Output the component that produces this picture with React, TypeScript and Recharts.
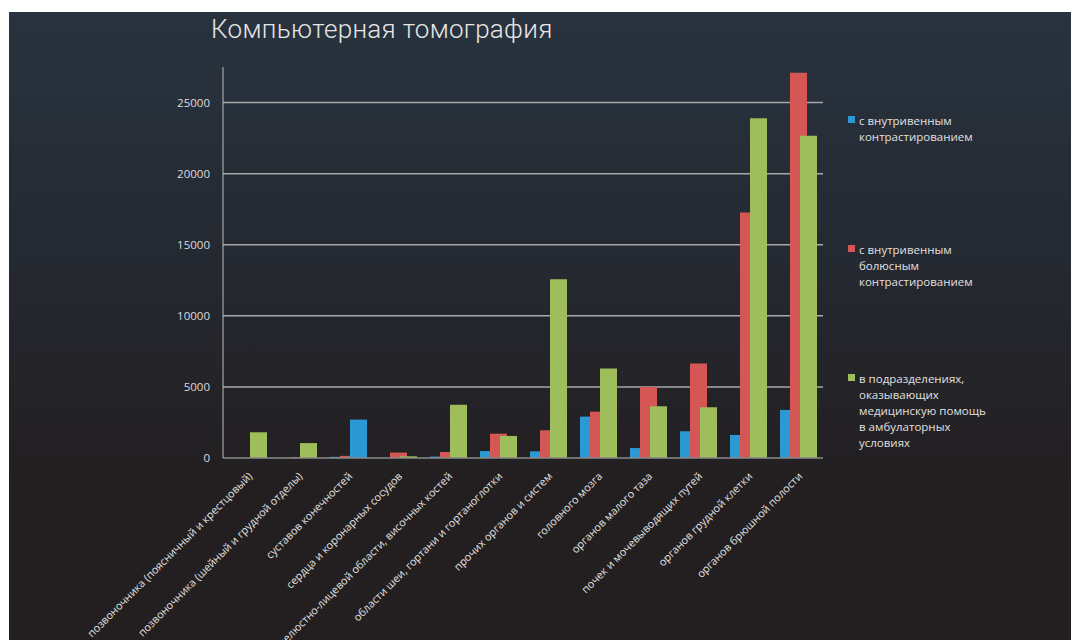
import React from 'react';
import { BarChart, Bar, XAxis, YAxis, CartesianGrid, Legend, Cell } from 'recharts';

const categories = [
  'позвоночника (поясничный и крестцовый)',
  'позвоночника (шейный и грудной отделы)',
  'суставов конечностей',
  'сердца и коронарных сосудов',
  'челюстно-лицевой области, височных костей',
  'области шеи, гортани и гортаноглотки',
  'прочих органов и систем',
  'головного  мозга',
  'органов малого таза',
  'почек и мочевыводящих путей',
  'органов грудной клетки',
  'органов брюшной полости',
];
const ivContrast = [0, 0, 80, 0, 100, 490, 470, 2910, 700, 1880, 1620, 3380];
const bolusContrast = [0, 50, 150, 380, 420, 1710, 1950, 3260, 5000, 6640, 17270, 27100];
const outpatient = [1810, 1050, 2700, 120, 3750, 1550, 12580, 6290, 3640, 3570, 23890, 22670];
const yTicks = [0, 5000, 10000, 15000, 20000, 25000];
const gridValues = [5000, 10000, 15000, 20000, 25000];

const seriesNames = [
  ['с внутривенным', 'контрастированием'],
  ['с внутривенным', 'болюсным', 'контрастированием'],
  ['в подразделениях,', 'оказывающих', 'медицинскую помощь', 'в амбулаторных', 'условиях'],
];
const colors = ['#2b9ad4', '#d45756', '#9dbe5b'];

const data = categories.map((c, i) => ({
  name: c,
  a: ivContrast[i],
  b: bolusContrast[i],
  c: outpatient[i],
}));

const font = '"Open Sans", "Noto Sans", sans-serif';

const XTick = (props: any) => {
  const { x, y, payload } = props;
  return (
    <g transform={`translate(${x + 5},${y + 11})`}>
      <text
        transform="rotate(-45)"
        textAnchor="end"
        fill="#e2e2e2"
        fontSize={10.8}
        fontFamily={font}
      >
        {payload.value}
      </text>
    </g>
  );
};

const legendTops = [113, 242, 371];
const renderLegend = () => (
  <div style={{ position: 'relative', width: 200, height: 400 }}>
    {seriesNames.map((lines, i) => (
      <div
        key={i}
        style={{
          position: 'absolute',
          left: 0,
          top: legendTops[i] - 90,
          fontFamily: font,
          fontSize: 11.5,
          lineHeight: '16px',
          color: '#e0e0e0',
        }}
      >
        <span
          style={{
            position: 'absolute',
            left: 0,
            top: 3,
            width: 7,
            height: 7,
            background: colors[i],
          }}
        />
        <div style={{ marginLeft: 11 }}>
          {lines.map((l, j) => (
            <div key={j}>{l}</div>
          ))}
        </div>
      </div>
    ))}
  </div>
);

export default function App() {
  return (
    <div style={{ position: 'absolute', left: 0, top: 0, width: 1071, height: 640, background: '#ffffff', overflow: 'hidden' }}>
      <div
        style={{
          position: 'absolute',
          left: 9,
          top: 12,
          width: 1062,
          height: 628,
          background: 'linear-gradient(to bottom, #28333f 0%, #252a33 35%, #231f21 75%, #231f20 100%)',
        }}
      />
      <div
        style={{
          position: 'absolute',
          left: 211,
          top: 14,
          fontFamily: 'Roboto, "Liberation Sans", sans-serif',
          fontWeight: 300,
          fontSize: 26,
          letterSpacing: 0.3,
          color: '#e6e6e6',
          whiteSpace: 'nowrap',
        }}
      >
        Компьютерная томография
      </div>
      <div style={{ position: 'absolute', left: 0, top: 0 }}>
        <BarChart
          width={1071}
          height={640}
          data={data}
          margin={{ top: 67, right: 248, bottom: 0, left: 163 }}
          barSize={17}
          barGap={-7}
        >
          <CartesianGrid vertical={false} horizontalValues={gridValues} stroke="#a8a8a8" strokeWidth={1.5} />
          <XAxis
            dataKey="name"
            interval={0}
            tick={<XTick />}
            tickLine={false}
            axisLine={{ stroke: '#8a8a8a', strokeWidth: 1.5 }}
            height={182}
          />
          <YAxis
            domain={[0, 27500]}
            ticks={yTicks}
            width={60}
            tickSize={0}
            tickMargin={13}
            tickLine={false}
            axisLine={{ stroke: '#bdbdbd', strokeWidth: 1 }}
            tick={{ fill: '#dcdcdc', fontSize: 11.5, fontFamily: font }}
          />
          <Legend
            layout="horizontal"
            verticalAlign="middle"
            align="center"
            content={renderLegend}
            wrapperStyle={{ position: 'absolute', left: 848, top: 90, width: 200, height: 400 }}
          />
          <Bar dataKey="a" name={seriesNames[0].join(' ')} fill={colors[0]} isAnimationActive={false} />
          <Bar dataKey="b" name={seriesNames[1].join(' ')} fill={colors[1]} isAnimationActive={false} />
          <Bar dataKey="c" name={seriesNames[2].join(' ')} fill={colors[2]} isAnimationActive={false}>
            {data.map((d, i) => (
              <Cell key={i} fill={i === 2 ? colors[0] : colors[2]} />
            ))}
          </Bar>
        </BarChart>
      </div>
    </div>
  );
}
